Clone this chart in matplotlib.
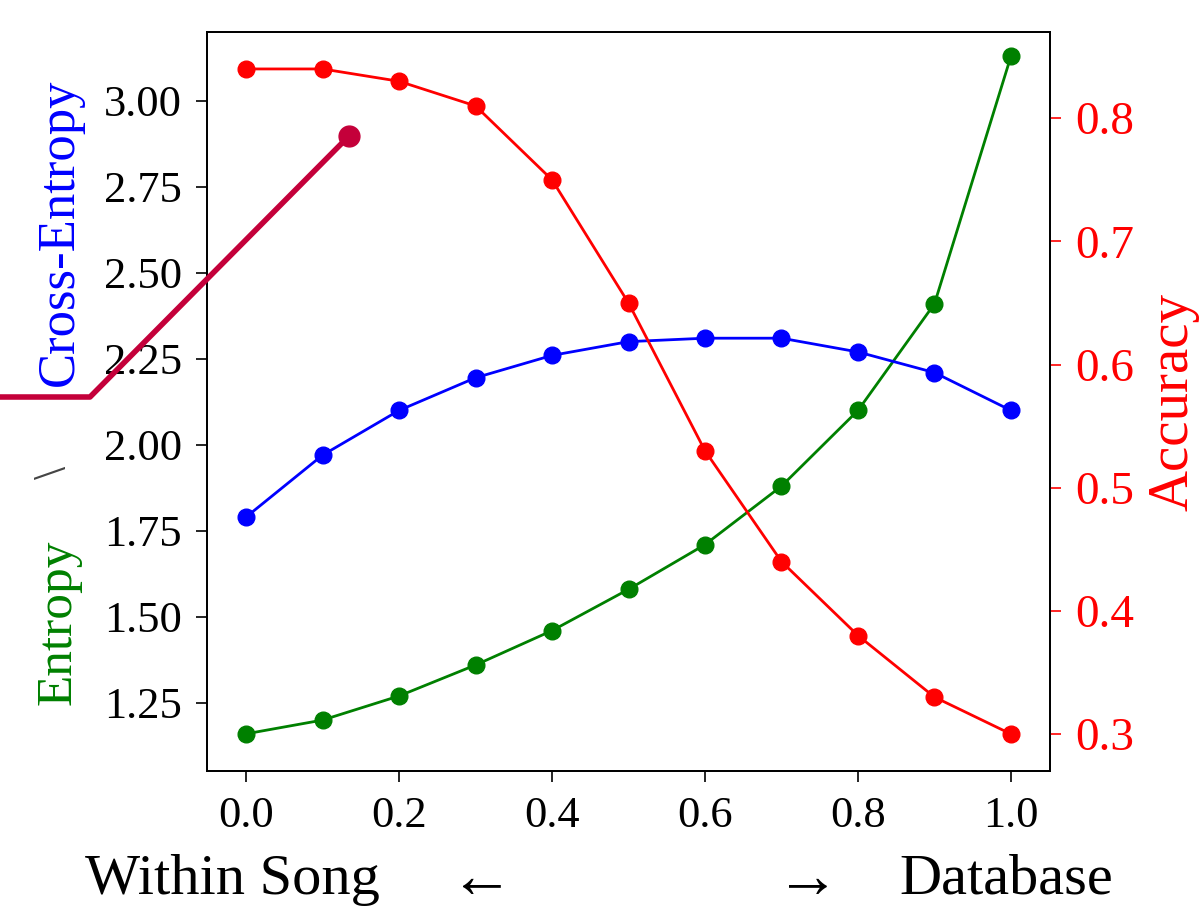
import matplotlib
matplotlib.use("Agg")
import matplotlib.pyplot as plt
from matplotlib.lines import Line2D

plt.rcParams['font.family'] = ['Liberation Serif', 'DejaVu Serif']

# mixing weight between within-song and database
alpha = [0.0, 0.1, 0.2, 0.3, 0.4, 0.5, 0.6, 0.7, 0.8, 0.9, 1.0]
entropy = [1.16, 1.20, 1.27, 1.36, 1.46, 1.58, 1.71, 1.88, 2.10, 2.41, 3.13]
cross_entropy = [1.79, 1.97, 2.10, 2.195, 2.26, 2.30, 2.31, 2.31, 2.27, 2.21, 2.10]
accuracy = [0.84, 0.84, 0.83, 0.81, 0.75, 0.65, 0.53, 0.44, 0.38, 0.33, 0.30]

W, H = 1203, 909
fig = plt.figure(figsize=(W / 100, H / 100), dpi=100)
ax = fig.add_axes([207 / W, 1 - 771 / H, (1050 - 207) / W, (771 - 32) / H])

ax.plot(alpha, entropy, '-o', color='green', lw=2, ms=12)
ax.plot(alpha, cross_entropy, '-o', color='blue', lw=2, ms=12)
ax.set_xlim(-0.051, 1.051)
ax.set_ylim(1.052, 3.20)
ax.set_yticks([1.25, 1.50, 1.75, 2.00, 2.25, 2.50, 2.75, 3.00])
ax.set_yticklabels(['%.2f' % v for v in ax.get_yticks()])
ax.set_xticks([0.0, 0.2, 0.4, 0.6, 0.8, 1.0])
ax.set_xticklabels(['%.1f' % v for v in ax.get_xticks()])
ax.tick_params(labelsize=32, length=8, width=1.2, pad=10)

ax2 = ax.twinx()
ax2.plot(alpha, accuracy, '-o', color='red', lw=2, ms=12)
ax2.set_ylim(0.27, 0.87)
ax2.set_yticks([0.3, 0.4, 0.5, 0.6, 0.7, 0.8])
ax2.tick_params(axis='y', labelsize=34, colors='red', length=8, width=1.2, pad=10)
ax2.set_ylabel('Accuracy', color='red', fontsize=41, labelpad=10)

for a in (ax, ax2):
    for s in a.spines.values():
        s.set_linewidth(1.3)

# composite left label
fig.text(58 / W, 1 - 622 / H, 'Entropy', color='green', fontsize=37,
         rotation=90, ha='center', va='center')
fig.text(55 / W, 1 - 472 / H, '\\', color='#444444', fontsize=34,
         rotation=90, ha='center', va='center')
fig.text(60 / W, 1 - 232 / H, 'Cross-Entropy', color='blue', fontsize=38,
         rotation=90, ha='center', va='center')

# x axis direction labels
fig.text(232 / W, 1 - 880 / H, 'Within Song', fontsize=42, ha='center', va='center')
fig.text(482 / W, 1 - 882 / H, '\u2190', fontsize=46, ha='center', va='center')
fig.text(808 / W, 1 - 882 / H, '\u2192', fontsize=46, ha='center', va='center')
fig.text(1006 / W, 1 - 880 / H, 'Database', fontsize=42, ha='center', va='center')

# pointer overlay
px = [0, 90, 349]
py = [397, 397, 136]
fig.add_artist(Line2D([p / W for p in px], [1 - p / H for p in py],
                      color='#C4003A', lw=4, transform=fig.transFigure))
fig.add_artist(Line2D([349 / W], [1 - 136 / H], marker='o', ms=15,
                      color='#C4003A', transform=fig.transFigure))

fig.savefig('out.png', dpi=100)
